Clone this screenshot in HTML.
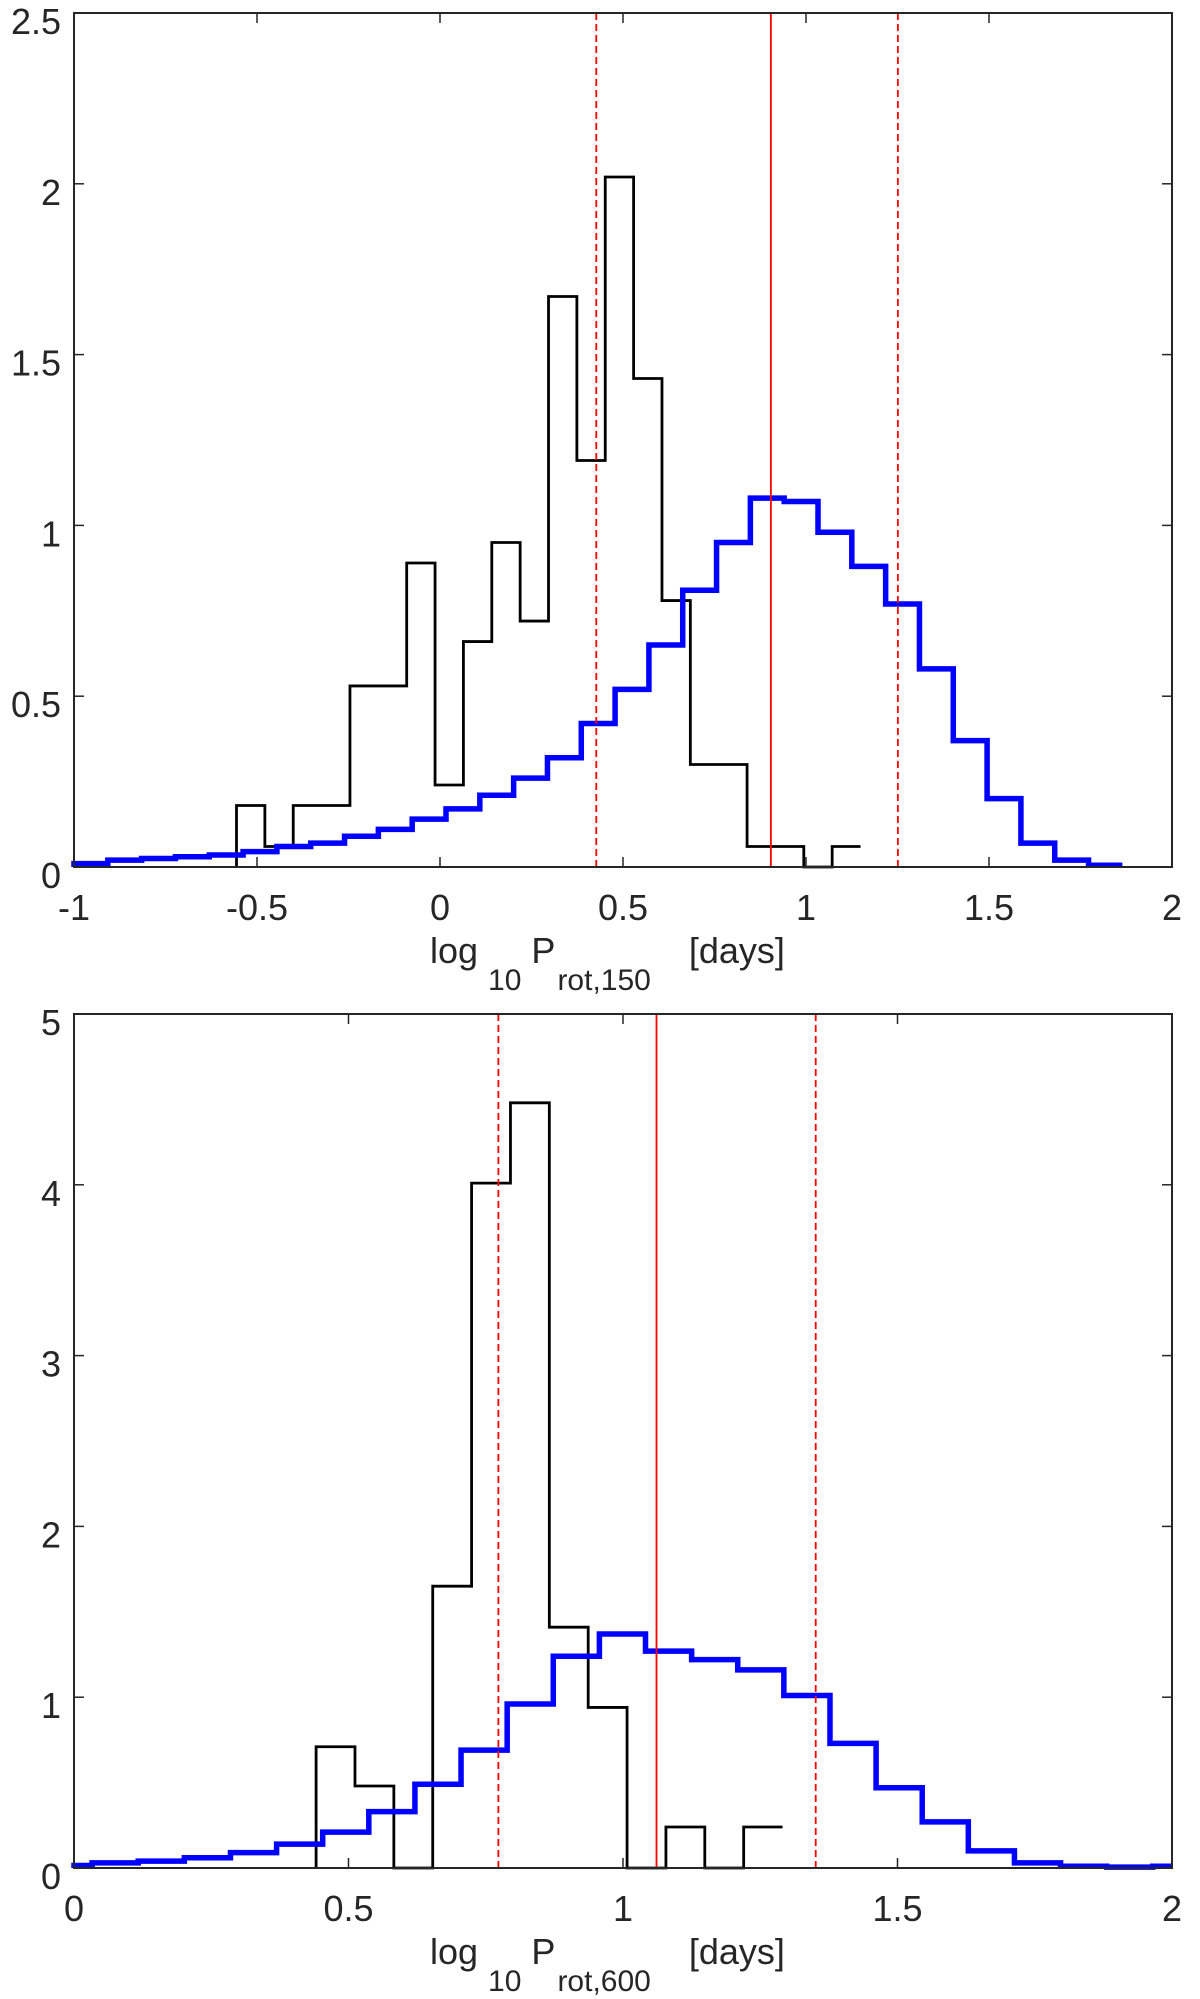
<!DOCTYPE html>
<html><head><meta charset="utf-8"><style>
html,body{margin:0;padding:0;background:#fff;}
svg{display:block;}
text{font-family:"Liberation Sans",sans-serif;fill:#262626;}
</style></head><body>
<svg id="fig" width="1200" height="1999" viewBox="0 0 1200 1999" xmlns="http://www.w3.org/2000/svg"></svg>
<script>
// ---- Top panel data ----
const topBlackStart = -0.556;
const topBlackWidth = 0.0775;
const topBlackValues = [0.18,0.06,0.18,0.18,0.53,0.53,0.89,0.24,0.66,0.95,0.72,1.67,1.19,2.02,1.43,0.78,0.30,0.30,0.06,0.06,0.00,0.06];
const topBlueStart = -1.0;
const topBlueWidth = 0.0924;
const topBlueValues = [0.01,0.02,0.025,0.03,0.035,0.045,0.06,0.07,0.09,0.11,0.14,0.17,0.21,0.26,0.32,0.42,0.52,0.65,0.81,0.95,1.08,1.07,0.98,0.88,0.77,0.58,0.37,0.20,0.07,0.02,0.005];
const topRedSolid = [0.904];
const topRedDashed = [0.427,1.251];
const topXTicks = [-1,-0.5,0,0.5,1,1.5,2];
const topXTickLabels = ["-1","-0.5","0","0.5","1","1.5","2"];
const topYTicks = [0,0.5,1,1.5,2,2.5];
const topYTickLabels = ["0","0.5","1","1.5","2","2.5"];
// ---- Bottom panel data ----
const botBlackStart = 0.441;
const botBlackWidth = 0.0708;
const botBlackValues = [0.71,0.48,0,1.65,4.01,4.48,1.41,0.94,0,0.24,0,0.24];
const botBlueStart = -0.051;
const botBlueWidth = 0.084;
const botBlueValues = [0.015,0.03,0.04,0.06,0.09,0.14,0.21,0.33,0.49,0.69,0.96,1.24,1.37,1.27,1.22,1.16,1.01,0.73,0.47,0.27,0.10,0.03,0.01,0.005,0.01];
const botRedSolid = [1.061];
const botRedDashed = [0.773,1.351];
const botXTicks = [0,0.5,1,1.5,2];
const botXTickLabels = ["0","0.5","1","1.5","2"];
const botYTicks = [0,1,2,3,4,5];
const botYTickLabels = ["0","1","2","3","4","5"];

const NS = "http://www.w3.org/2000/svg";
const svg = document.getElementById('fig');
function mk(tag, attrs, parent){
  const e = document.createElementNS(NS, tag);
  for (const k in attrs) e.setAttribute(k, attrs[k]);
  (parent||svg).appendChild(e);
  return e;
}
function stepPath(start, width, vals, xs, ys, xmin, xmax){
  let d = "";
  let first = true;
  for (let i=0;i<vals.length;i++){
    let a = Math.max(start+i*width, xmin), b = Math.min(start+(i+1)*width, xmax);
    if (b<=a) continue;
    const y = ys(vals[i]);
    if (first){ d += "M"+xs(a)+","+ys(0)+" L"+xs(a)+","+y; first=false; }
    else d += " L"+xs(a)+","+y;
    d += " L"+xs(b)+","+y;
  }
  return d;
}
function panel(o){
  const g = mk('g', {});
  
  
  const X0=74, X1=1172;
  const xs = v => X0 + (v-o.xmin)/(o.xmax-o.xmin)*(X1-X0);
  const ys = v => o.y1 - (v-o.ymin)/(o.ymax-o.ymin)*(o.y1-o.y0);
  const b = mk('path', {d: stepPath(o.bStart,o.bWidth,o.bVals,xs,ys,o.xmin,o.xmax), fill:'none', stroke:'#000', 'stroke-width':2.8}, g);
  
  
  const bl = mk('path', {d: stepPath(o.uStart,o.uWidth,o.uVals,xs,ys,o.xmin,o.xmax), fill:'none', stroke:'#0000ff', 'stroke-width':5.5}, g);
  
  
  o.solid.forEach(v=>{
    const l = mk('line', {x1:xs(v),x2:xs(v),y1:o.y0,y2:o.y1,stroke:'#ff0000','stroke-width':1.8}, g);
    
    
  });
  o.dashed.forEach(v=>{
    const l = mk('line', {x1:xs(v),x2:xs(v),y1:o.y0,y2:o.y1,stroke:'#ff0000','stroke-width':1.8,'stroke-dasharray':'7,4'}, g);
    
    
  });
  const r = mk('rect', {x:X0,y:o.y0,width:X1-X0,height:o.y1-o.y0,fill:'none',stroke:'#262626','stroke-width':2}, g);
  
  
  o.xt.forEach((v,i)=>{
    const x = xs(v);
    mk('line',{x1:x,x2:x,y1:o.y1,y2:o.y1-10,stroke:'#262626','stroke-width':1.5},g);
    mk('line',{x1:x,x2:x,y1:o.y0,y2:o.y0+10,stroke:'#262626','stroke-width':1.5},g);
    const t = mk('text',{x:x,y:o.y1+53,'font-size':36,'text-anchor':'middle'},g);
    t.textContent = o.xl[i];
    
    
  });
  o.yt.forEach((v,i)=>{
    const y = ys(v);
    mk('line',{x1:X0,x2:X0+10,y1:y,y2:y,stroke:'#262626','stroke-width':1.5},g);
    mk('line',{x1:X1,x2:X1-10,y1:y,y2:y,stroke:'#262626','stroke-width':1.5},g);
    const t = mk('text',{x:61,y:y+21,'font-size':36,'text-anchor':'end'},g);
    t.textContent = o.yl[i];
    
    
  });
  const lb = mk('text',{x:430,y:o.y1+96,'font-size':36},g);
  
  
  lb.innerHTML = 'log<tspan font-size="30" dx="10" dy="27">10</tspan><tspan dx="10" dy="-27">P</tspan><tspan font-size="30" dx="2" dy="27">'+o.sub+'</tspan><tspan dx="38" dy="-27">[days]</tspan>';
}
panel({name:'top-panel', xmin:-1, xmax:2, ymin:0, ymax:2.5, y0:13, y1:867,
  bStart:topBlackStart,bWidth:topBlackWidth,bVals:topBlackValues,
  uStart:topBlueStart,uWidth:topBlueWidth,uVals:topBlueValues,
  solid:topRedSolid,dashed:topRedDashed,xt:topXTicks,xl:topXTickLabels,yt:topYTicks,yl:topYTickLabels,sub:'rot,150'});
panel({name:'bottom-panel', xmin:0, xmax:2, ymin:0, ymax:5, y0:1014, y1:1868,
  bStart:botBlackStart,bWidth:botBlackWidth,bVals:botBlackValues,
  uStart:botBlueStart,uWidth:botBlueWidth,uVals:botBlueValues,
  solid:botRedSolid,dashed:botRedDashed,xt:botXTicks,xl:botXTickLabels,yt:botYTicks,yl:botYTickLabels,sub:'rot,600'});
</script>
</body></html>
